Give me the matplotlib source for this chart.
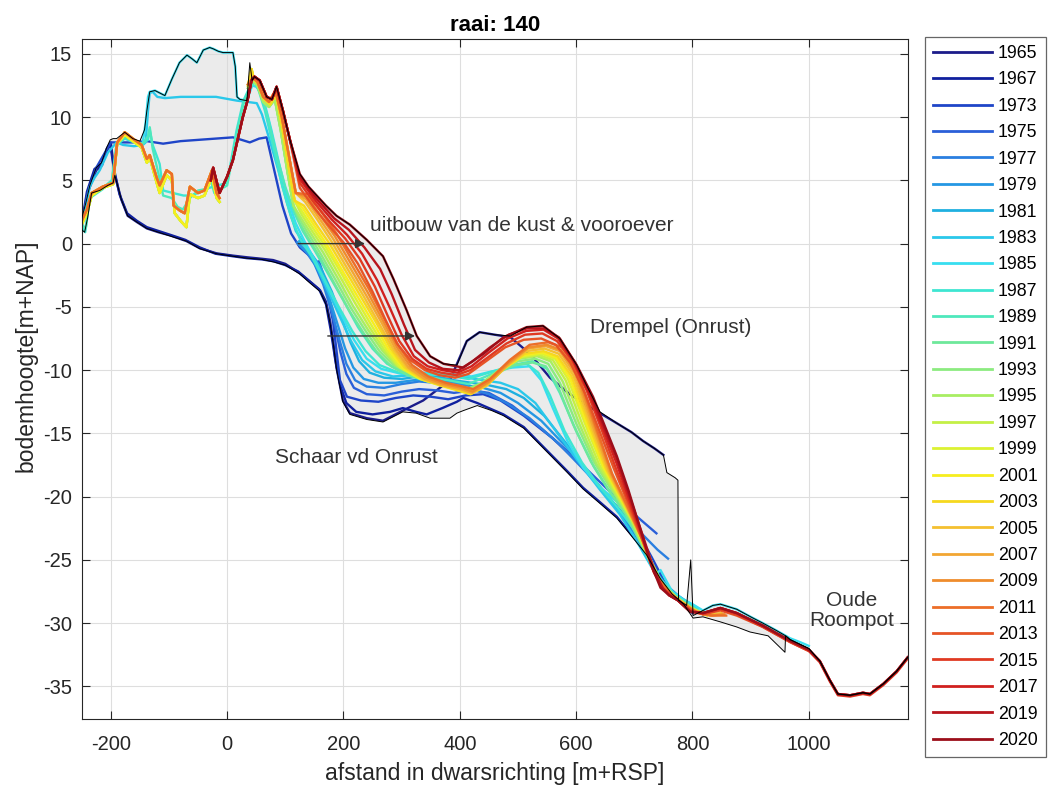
import numpy as np
import matplotlib
matplotlib.use("Agg")
import matplotlib.pyplot as plt

plt.rcParams['font.family'] = ['Liberation Sans', 'DejaVu Sans']
plt.rcParams['axes.unicode_minus'] = False

# ---------------------------------------------------------------- data ----
years = [1965, 1967, 1973, 1975, 1977, 1979, 1981, 1983, 1985, 1987, 1989,
         1991, 1993, 1995, 1997, 1999, 2001, 2003, 2005, 2007, 2009, 2011,
         2013, 2015, 2017, 2019, 2020]

GAP = [(np.nan, np.nan)]

p1965 = [(-250, 1.4), (-240, 4.0), (-225, 5.8), (-215, 6.2), (-207, 7.5), (-200, 8.0),
         (-193, 5.4), (-182, 3.5), (-171, 2.2), (-155, 1.7), (-138, 1.2), (-118, 0.9),
         (-98, 0.65), (-70, 0.2), (-47, -0.37), (-18, -0.77), (10, -0.95), (34, -1.08),
         (60, -1.2), (79, -1.3), (100, -1.6), (125, -2.35), (142, -3.0), (160, -3.7),
         (170, -4.6), (177, -6.1), (183, -8.0), (188, -9.8), (199, -12.4), (211, -13.4),
         (240, -13.8), (268, -14.0), (302, -13.2), (337, -12.4), (360, -11.6), (383, -10.8),
         (397, -9.3), (412, -7.7), (434, -7.0), (460, -7.2), (487, -7.4), (510, -8.3),
         (526, -9.0), (555, -10.6), (589, -11.9), (620, -12.8), (641, -13.4), (670, -14.2),
         (695, -14.9), (715, -15.6), (735, -16.2), (750, -16.7)]

p1967 = [(-250, 1.6), (-241, 4.1), (-228, 5.9), (-216, 6.3), (-208, 7.2), (-201, 7.9),
         (-195, 6.0), (-185, 3.9), (-172, 2.4), (-155, 1.8), (-138, 1.3), (-118, 1.0),
         (-98, 0.7), (-72, 0.3), (-47, -0.3), (-20, -0.8), (10, -1.0), (34, -1.15),
         (60, -1.25), (80, -1.4), (100, -1.7), (122, -2.2), (140, -2.9), (158, -3.6),
         (170, -4.8), (178, -6.8), (186, -9.2), (195, -11.3), (205, -12.6), (222, -13.3),
         (250, -13.5), (280, -13.3), (302, -13.0), (325, -13.3), (343, -13.5), (370, -13.0),
         (395, -12.5), (406, -12.2), (430, -12.6), (455, -13.1), (475, -13.5), (510, -14.5),
         (555, -16.6), (585, -18.0), (612, -19.3), (640, -20.4), (670, -21.6), (695, -23.0),
         (721, -24.5), (745, -26.4), (765, -27.6), (785, -28.4), (800, -29.2)]

p1973 = [(-250, 1.5), (-240, 4.0), (-225, 6.0), (-205, 7.6), (-200, 8.0), (-185, 8.0),
         (-160, 8.0), (-138, 8.1), (-110, 7.9), (-80, 8.1), (-50, 8.2), (-20, 8.3),
         (10, 8.4), (25, 8.2), (39, 8.0), (55, 8.3), (68, 8.4), (80, 6.0), (95, 3.0),
         (110, 0.8), (125, -0.3), (140, -0.9), (156, -1.5), (171, -3.7), (182, -6.1),
         (194, -10.8), (206, -12.1), (230, -12.4), (260, -12.5), (290, -12.2), (320, -12.0),
         (350, -12.1), (380, -12.3), (410, -12.0), (440, -11.9), (470, -12.4), (510, -13.6),
         (560, -15.4), (610, -17.6), (660, -20.3), (700, -22.3), (730, -24.8), (755, -27.0),
         (775, -28.0), (795, -28.8)]

p1975 = [(158, -1.4), (165, -2.4), (175, -4.2), (185, -6.4), (195, -8.6), (205, -10.3),
         (218, -11.4), (240, -11.9), (270, -12.0), (300, -11.7), (330, -11.5), (360, -11.6),
         (390, -11.8), (420, -11.6), (450, -11.8), (490, -12.8), (540, -14.6), (590, -16.6),
         (640, -18.8), (690, -21.0), (738, -22.9)]

p1977 = [(120, 0.1), (135, -0.6), (150, -1.6), (165, -3.2), (180, -5.4), (193, -7.6),
         (205, -9.5), (220, -10.8), (240, -11.3), (270, -11.4), (300, -11.1), (330, -10.9),
         (360, -11.0), (390, -11.3), (420, -11.5), (450, -11.9), (480, -12.6), (520, -13.8),
         (570, -15.8), (620, -18.2), (670, -20.8), (710, -22.8), (740, -24.2), (758, -24.9)]

p1979 = [(122, 0.0), (140, -0.8), (158, -2.2), (175, -4.2), (190, -6.4), (203, -8.3),
         (217, -9.8), (235, -10.7), (260, -11.0), (290, -11.0), (320, -10.8), (350, -10.7),
         (380, -10.9), (410, -11.2), (440, -11.4), (470, -11.8), (500, -12.6), (540, -14.0),
         (590, -16.4), (640, -19.2), (680, -21.6), (710, -23.6), (735, -25.8), (755, -27.0),
         (775, -27.8), (795, -28.5)]

p1981 = [(124, 0.2), (140, -0.5), (160, -1.8), (180, -3.8), (197, -5.9), (212, -7.8),
         (227, -9.3), (245, -10.2), (270, -10.6), (300, -10.7), (330, -10.5), (360, -10.5),
         (390, -10.8), (420, -11.0), (450, -11.2), (480, -11.5), (510, -12.2), (545, -13.6),
         (590, -16.2), (630, -18.6), (670, -20.8), (700, -22.6), (725, -24.9), (745, -26.6),
         (765, -27.6), (790, -28.4), (805, -28.9)]

p1983 = [(-250, 1.3), (-243, 3.0), (-236, 4.5), (-228, 5.2), (-219, 5.8), (-205, 7.2),
         (-190, 8.0), (-179, 7.8), (-160, 7.7), (-145, 7.8), (-140, 8.0), (-136, 10.5),
         (-133, 11.9), (-128, 12.0), (-120, 11.6), (-107, 11.5), (-80, 11.6), (-47, 11.6),
         (-19, 11.6), (17, 11.3), (35, 11.2), (51, 11.1), (60, 10.2), (73, 8.2), (88, 5.8),
         (103, 3.2), (118, 1.0), (130, 0.2), (145, -0.9), (162, -2.6), (180, -4.4),
         (198, -6.2), (213, -7.7), (232, -9.2), (255, -10.1), (285, -10.5), (320, -10.4),
         (360, -10.3), (400, -10.5), (440, -10.8), (470, -11.0), (500, -11.5), (530, -12.6),
         (565, -14.8), (600, -17.0), (640, -19.4), (675, -21.4), (705, -23.6), (730, -25.6),
         (748, -26.8), (770, -27.7), (795, -28.4), (808, -28.9)]

p1985 = [(-145, 8.0), (-140, 9.6), (-136, 11.6), (-133, 12.0), (-124, 12.1), (-107, 11.7),
         (-95, 13.0), (-82, 14.3), (-69, 14.9), (-60, 14.6), (-52, 14.3), (-41, 15.3),
         (-30, 15.5), (-24, 15.4), (-15, 15.2), (-7, 15.1), (10, 15.1), (14, 14.0),
         (17, 11.6), (22, 11.4), (34, 11.3), (43, 12.5), (50, 12.4), (58, 12.0), (66, 10.8),
         (76, 9.0), (90, 6.2), (104, 3.6), (118, 1.6), (134, 0.1), (152, -1.4), (172, -3.3),
         (195, -5.5), (218, -7.6), (240, -9.1), (265, -9.9), (300, -10.3), (340, -10.2),
         (380, -10.3), (420, -10.5), (455, -10.1), (490, -9.8), (520, -9.7), (540, -10.8),
         (560, -13.0), (585, -15.6), (612, -17.7), (640, -19.2), (670, -20.4), (700, -22.2),
         (725, -24.6), (738, -26.1), (745, -25.8), (752, -26.4), (765, -27.5), (785, -28.2),
         (800, -28.5), (818, -29.0), (835, -28.6), (848, -28.5), (876, -28.9), (900, -29.5),
         (921, -30.0), (945, -30.6), (968, -31.2), (985, -31.5), (1000, -31.8)]

dune_left_teal = [(-250, 1.3), (-244, 0.9), (-236, 3.6), (-214, 4.3), (-198, 5.0),
                  (-190, 7.8), (-176, 8.3), (-160, 8.0), (-145, 7.9), (-136, 8.2),
                  (-133, 9.0), (-128, 7.8), (-116, 6.3), (-110, 4.2), (-93, 4.0), (-75, 3.8),
                  (-62, 3.8), (-50, 4.0), (-38, 4.3), (-24, 4.5), (0, 4.8), (16, 8.9),
                  (28, 11.3), (38, 12.3)]

dune_left_aqua = [(-250, 1.5), (-243, 1.2), (-236, 3.7), (-214, 4.4), (-198, 5.0),
                  (-190, 7.9), (-176, 8.4), (-160, 8.1), (-145, 7.9), (-136, 8.5),
                  (-133, 9.2), (-128, 7.5), (-118, 5.5), (-110, 3.8), (-95, 3.6), (-85, 2.9),
                  (-76, 2.7), (-64, 3.6), (-50, 4.2), (-38, 4.3), (-28, 5.0), (-22, 4.0),
                  (0, 4.6), (16, 8.5), (28, 11.0), (38, 12.2)]

p1987 = [(48, 12.8), (55, 12.0), (65, 10.5), (80, 7.5), (95, 4.5), (110, 2.1), (125, 0.4),
         (145, -1.0), (168, -2.9), (192, -5.0), (215, -6.9), (238, -8.5), (262, -9.6),
         (295, -10.2), (335, -10.3), (375, -10.4), (415, -10.7), (450, -10.2), (485, -9.7),
         (515, -9.5), (535, -10.2), (555, -12.0), (580, -14.8), (610, -17.3), (640, -19.2),
         (670, -20.8), (700, -22.6), (725, -24.9), (745, -26.5), (770, -27.8), (790, -28.4),
         (805, -28.9)]

p1989 = [(48, 12.8), (58, 11.8), (70, 10.0), (85, 7.0), (100, 4.5), (115, 2.5), (130, 1.0),
         (150, -0.5), (175, -2.5), (200, -4.5), (225, -6.6), (250, -8.3), (275, -9.5),
         (305, -10.2), (340, -10.5), (380, -10.8), (415, -11.1), (450, -10.4), (490, -9.6),
         (525, -9.3), (550, -9.9), (572, -11.8), (600, -14.8), (630, -17.6), (660, -19.8),
         (690, -21.6), (720, -24.2), (745, -26.6), (770, -27.8), (795, -28.6), (810, -29.0)]

dune_left_lime = [(-250, 1.5), (-241, 2.4), (-233, 3.8), (-214, 4.4), (-196, 4.7),
                  (-189, 7.9), (-176, 8.6), (-162, 8.1), (-147, 7.6), (-138, 6.4),
                  (-133, 6.8), (-121, 4.8), (-116, 4.0), (-104, 5.4), (-95, 5.0), (-90, 2.4),
                  (-80, 1.8), (-70, 1.3), (-64, 3.9), (-50, 3.6), (-39, 3.8), (-26, 5.3),
                  (-18, 3.6), (-13, 3.3)]

dune_left_ochre = [(-250, 1.8), (-241, 2.7), (-233, 4.0), (-214, 4.5), (-196, 4.8),
                   (-189, 8.0), (-176, 8.8), (-162, 8.3), (-147, 7.8), (-138, 6.7),
                   (-133, 7.0), (-121, 5.2), (-116, 4.6), (-104, 5.8), (-95, 5.5), (-92, 3.0),
                   (-81, 2.6), (-73, 2.4), (-64, 4.5), (-50, 4.0), (-39, 4.2), (-26, 5.8),
                   (-18, 4.0), (-13, 3.6)]

dune_top_green = [(36, 12.3), (44, 12.9), (52, 12.5), (62, 11.2), (72, 10.8), (82, 11.4),
                  (92, 9.0), (104, 5.6), (114, 3.0)]
dune_top_yellow = [(36, 12.5), (42, 13.8), (46, 13.0), (54, 12.6), (64, 11.4), (74, 11.0),
                   (84, 11.8), (94, 9.4), (106, 6.0), (116, 3.4)]
dune_top_orange = [(36, 12.6), (44, 13.1), (52, 12.8), (62, 11.6), (72, 11.2), (83, 12.1),
                   (94, 10.0), (106, 7.0), (118, 4.0)]

p1991 = [(125, 1.6), (140, 0.4), (160, -1.1), (185, -3.2), (210, -5.3), (235, -7.1),
         (258, -8.6), (282, -9.7), (310, -10.4), (345, -10.9), (380, -11.3), (410, -11.6),
         (435, -11.1), (465, -10.2), (495, -9.6), (525, -9.4), (548, -9.7), (568, -11.2),
         (595, -14.3), (625, -17.2), (655, -19.4), (685, -21.4), (715, -24.0), (740, -26.4),
         (765, -27.7), (790, -28.5), (810, -29.1)]
p1993 = [(125, 1.9), (142, 0.6), (162, -0.9), (188, -3.0), (213, -5.1), (238, -6.9),
         (262, -8.5), (286, -9.6), (315, -10.3), (350, -10.8), (385, -11.2), (412, -11.5),
         (438, -11.0), (468, -10.0), (500, -9.3), (530, -9.1), (552, -9.5), (572, -11.0),
         (600, -14.2), (630, -17.2), (660, -19.4), (690, -21.5), (718, -24.2), (742, -26.6),
         (767, -27.8), (792, -28.6), (812, -29.1)]
p1995 = [(126, 2.1), (144, 0.8), (165, -0.7), (191, -2.8), (216, -4.9), (242, -6.8),
         (266, -8.4), (290, -9.6), (320, -10.4), (355, -10.9), (390, -11.3), (414, -11.6),
         (440, -11.0), (470, -9.9), (502, -9.1), (533, -8.9), (556, -9.3), (577, -10.9),
         (605, -14.2), (635, -17.4), (665, -19.6), (694, -21.8), (722, -24.6), (745, -26.8),
         (770, -27.9), (795, -28.7), (815, -29.2)]
p1997 = [(128, 2.3), (146, 1.0), (168, -0.5), (194, -2.6), (220, -4.7), (246, -6.7),
         (270, -8.4), (294, -9.7), (325, -10.5), (360, -11.0), (392, -11.4), (416, -11.7),
         (442, -11.1), (472, -9.9), (505, -9.0), (536, -8.8), (560, -9.2), (582, -10.8),
         (610, -14.2), (640, -17.5), (670, -19.8), (698, -22.0), (725, -24.8), (747, -26.9),
         (772, -28.0), (797, -28.8), (817, -29.2)]
p1999 = [(128, 2.6), (148, 1.2), (170, -0.3), (197, -2.4), (223, -4.5), (250, -6.6),
         (274, -8.4), (298, -9.8), (328, -10.6), (362, -11.1), (394, -11.5), (417, -11.8),
         (444, -11.1), (474, -9.9), (508, -8.9), (540, -8.7), (564, -9.1), (586, -10.7),
         (615, -14.2), (645, -17.6), (674, -20.0), (702, -22.3), (728, -25.1), (749, -27.0),
         (774, -28.1), (800, -28.9), (818, -29.3)]
p2001 = [(130, 2.8), (150, 1.4), (173, -0.2), (200, -2.3), (227, -4.4), (254, -6.5),
         (278, -8.4), (302, -9.8), (332, -10.7), (365, -11.2), (396, -11.6), (418, -11.9),
         (446, -11.2), (476, -9.9), (510, -8.8), (542, -8.6), (566, -9.0), (589, -10.6),
         (618, -14.2), (648, -17.7), (677, -20.1), (705, -22.5), (730, -25.3), (750, -27.1),
         (775, -28.1), (800, -28.9), (820, -29.3)]
p2003 = [(132, 3.0), (152, 1.6), (176, 0.0), (203, -2.1), (230, -4.2), (257, -6.3),
         (281, -8.3), (305, -9.8), (335, -10.7), (368, -11.2), (398, -11.6), (419, -11.9),
         (447, -11.2), (478, -9.8), (512, -8.7), (544, -8.5), (568, -8.9), (592, -10.5),
         (621, -14.2), (651, -17.8), (680, -20.3), (708, -22.8), (732, -25.6), (752, -27.2),
         (777, -28.2), (802, -29.0), (825, -29.4)]
p2005 = [(134, 3.3), (155, 1.9), (179, 0.2), (207, -2.0), (234, -4.1), (261, -6.3),
         (285, -8.3), (309, -9.8), (338, -10.7), (370, -11.2), (400, -11.5), (420, -11.8),
         (448, -11.1), (480, -9.7), (514, -8.5), (546, -8.3), (570, -8.7), (595, -10.4),
         (624, -14.2), (654, -17.9), (683, -20.5), (710, -23.0), (734, -25.8), (754, -27.3),
         (778, -28.2), (803, -29.0), (830, -29.3), (850, -29.2)]
p2007 = [(136, 3.5), (157, 2.1), (182, 0.4), (210, -1.8), (238, -4.0), (265, -6.2),
         (289, -8.3), (312, -9.8), (340, -10.7), (372, -11.2), (402, -11.5), (421, -11.8),
         (449, -11.0), (482, -9.6), (516, -8.3), (548, -8.1), (572, -8.5), (598, -10.3),
         (627, -14.2), (657, -18.0), (686, -20.7), (713, -23.3), (736, -26.0), (756, -27.4),
         (780, -28.3), (805, -29.1), (830, -29.4), (852, -29.3)]
p2009 = [(138, 3.7), (159, 2.3), (185, 0.6), (213, -1.6), (241, -3.8), (268, -6.1),
         (292, -8.2), (315, -9.7), (343, -10.6), (374, -11.1), (404, -11.4), (422, -11.7),
         (450, -10.9), (484, -9.4), (518, -8.2), (550, -8.0), (574, -8.4), (600, -10.2),
         (630, -14.2), (660, -18.1), (689, -20.9), (716, -23.6), (738, -26.2), (758, -27.5),
         (782, -28.4), (807, -29.1), (832, -29.4), (855, -29.3)]
p2011 = [(140, 3.9), (162, 2.5), (188, 0.8), (216, -1.4), (244, -3.6), (271, -6.0),
         (295, -8.1), (318, -9.6), (346, -10.5), (376, -11.0), (406, -11.3), (423, -11.5),
         (452, -10.7), (486, -9.2), (520, -8.0), (552, -7.8), (576, -8.2), (602, -10.1),
         (632, -14.2), (662, -18.2), (692, -21.1), (718, -23.8), (740, -26.4), (760, -27.6),
         (784, -28.5), (808, -29.2), (834, -29.4), (858, -29.4)]

dune_red = [(-28, 5.0), (-24, 6.0), (-13, 4.0), (0, 5.3), (10, 6.6), (19, 8.4), (27, 10.0),
            (35, 11.3), (42, 12.9), (47, 13.2), (56, 12.9), (68, 11.6), (77, 11.4),
            (85, 12.4), (96, 10.5), (108, 8.2)]

p2013 = [(125, 4.4), (150, 2.8), (175, 1.4), (200, 0.1), (225, -1.6), (250, -3.8),
         (272, -6.0), (292, -7.9), (315, -9.2), (340, -10.0), (365, -10.4), (392, -10.6),
         (415, -10.3), (445, -9.3), (478, -8.2), (510, -7.6), (540, -7.5), (565, -8.0),
         (590, -9.4), (615, -11.8), (640, -14.8), (665, -17.8), (690, -20.6), (712, -23.2),
         (732, -25.8), (748, -27.2), (770, -28.0), (795, -28.9), (818, -29.3), (848, -29.0),
         (876, -29.4), (921, -30.3), (968, -31.5), (1000, -32.2)]
p2015 = [(125, 4.8), (150, 3.2), (177, 1.7), (203, 0.4), (228, -1.2), (254, -3.4),
         (276, -5.7), (296, -7.7), (318, -9.1), (343, -9.9), (368, -10.2), (394, -10.4),
         (418, -10.0), (448, -9.0), (480, -7.9), (512, -7.2), (542, -7.1), (567, -7.7),
         (593, -9.2), (618, -11.6), (643, -14.6), (667, -17.6), (692, -20.6), (714, -23.3),
         (734, -26.0), (750, -27.3), (772, -28.1), (796, -29.0), (818, -29.3), (848, -28.9),
         (876, -29.3), (921, -30.3), (968, -31.5), (1000, -32.2), (1019, -33.1),
         (1036, -34.6), (1050, -35.7), (1071, -35.8), (1093, -35.6), (1105, -35.7),
         (1128, -34.9), (1151, -33.9), (1170, -32.8)]
p2017 = [(125, 5.1), (152, 3.4), (180, 1.9), (206, 0.7), (232, -0.8), (258, -2.9),
         (280, -5.1), (300, -7.2), (321, -8.9), (345, -9.7), (370, -10.0), (396, -10.2),
         (420, -9.7), (450, -8.6), (482, -7.5), (514, -6.9), (544, -6.8), (569, -7.5),
         (596, -9.3), (622, -11.8), (646, -14.6), (669, -17.3), (692, -20.3), (714, -23.2),
         (734, -26.0), (750, -27.3)]
p2019 = [(125, 5.3), (153, 3.6), (184, 2.0), (209, 1.1), (236, -0.3), (263, -2.0),
         (283, -4.0), (304, -6.4), (323, -8.4), (347, -9.4), (371, -9.9), (398, -10.0),
         (422, -9.3), (452, -8.2), (484, -7.2), (515, -6.7), (544, -6.7), (570, -7.4),
         (598, -9.4), (626, -12.0), (648, -14.5), (670, -17.0), (692, -20.0), (714, -23.0),
         (734, -25.8), (748, -27.2)]
p2020 = [(125, 5.5), (140, 4.5), (154, 3.8), (170, 3.0), (188, 2.2), (211, 1.5),
         (240, 0.3), (268, -1.0), (286, -2.8), (308, -5.2), (326, -7.3), (349, -8.9),
         (372, -9.5), (406, -9.8), (441, -8.7), (475, -7.4), (515, -6.6), (543, -6.5),
         (572, -7.5), (601, -9.6), (629, -12.1), (650, -14.5), (670, -16.8), (690, -19.5),
         (710, -22.5), (730, -25.5), (745, -27.2)]

roompot_tail = [(760, -27.8), (775, -28.2), (796, -29.1), (818, -29.2), (848, -28.8),
                (876, -29.2), (921, -30.2), (968, -31.4), (1000, -32.1), (1019, -33.0),
                (1036, -34.5), (1050, -35.6), (1071, -35.7), (1093, -35.5), (1105, -35.6),
                (1128, -34.8), (1151, -33.8), (1170, -32.7)]

# upper and lower bounds of all surveyed profiles
env_upper = [(-250, 2.0), (-243, 3.2), (-236, 4.6), (-225, 6.0), (-216, 6.4), (-207, 7.6),
             (-201, 8.2), (-196, 8.3), (-190, 8.3), (-176, 8.8), (-162, 8.3), (-150, 8.1),
             (-142, 9.0), (-138, 10.5), (-133, 12.0), (-124, 12.1), (-107, 11.7), (-95, 13.0),
             (-82, 14.3), (-69, 14.9), (-60, 14.6), (-52, 14.3), (-41, 15.3), (-30, 15.5),
             (-24, 15.4), (-15, 15.2), (-7, 15.1), (10, 15.1), (14, 14.0), (17, 11.6),
             (22, 11.4), (34, 11.3), (39, 14.3), (43, 12.9), (47, 13.2), (56, 12.9),
             (68, 11.6), (77, 11.4), (85, 12.4), (96, 10.5), (108, 8.2), (125, 5.5),
             (140, 4.5), (154, 3.8), (170, 3.0), (188, 2.2), (211, 1.5), (240, 0.3),
             (268, -1.0), (286, -2.8), (308, -5.2), (326, -7.3), (349, -8.9), (372, -9.5),
             (395, -9.6), (412, -7.7), (434, -7.0), (460, -7.2), (487, -7.3), (515, -6.6),
             (543, -6.5), (572, -7.5), (601, -9.6), (620, -11.4), (641, -13.3), (670, -14.2),
             (695, -14.9), (715, -15.6), (735, -16.2), (750, -16.7), (756, -18.1),
             (770, -18.5), (775, -18.7), (776, -28.2), (790, -28.6), (797, -25.0),
             (801, -29.4), (818, -29.0), (835, -28.6), (848, -28.5), (876, -28.9),
             (900, -29.5), (921, -30.0), (945, -30.6), (960, -31.0), (968, -31.3),
             (1000, -32.0), (1019, -33.0), (1036, -34.5), (1050, -35.6), (1071, -35.7),
             (1093, -35.5), (1105, -35.6), (1128, -34.8), (1151, -33.8), (1170, -32.7)]
env_lower = [(-250, 1.1), (-245, 0.9), (-240, 2.0), (-233, 4.0), (-219, 4.2), (-205, 4.6),
             (-196, 4.8), (-193, 5.4), (-182, 3.5), (-171, 2.2), (-155, 1.7), (-138, 1.2),
             (-118, 0.9), (-98, 0.6), (-70, 0.2), (-47, -0.4), (-18, -0.8), (10, -1.0),
             (34, -1.15), (60, -1.25), (80, -1.45), (100, -1.7), (125, -2.4), (142, -3.1),
             (160, -3.8), (170, -4.8), (177, -6.3), (183, -8.1), (188, -9.9), (199, -12.5),
             (211, -13.5), (240, -13.9), (268, -14.1), (302, -13.3), (325, -13.4),
             (349, -13.8), (383, -13.8), (395, -13.4), (406, -13.2), (430, -12.8),
             (455, -13.2), (475, -13.6), (510, -14.6), (555, -16.7), (585, -18.1),
             (612, -19.4), (640, -20.5), (670, -21.7), (695, -23.1), (721, -24.6),
             (745, -26.5), (765, -27.7), (785, -28.5), (801, -29.6), (818, -29.5),
             (848, -29.9), (876, -30.3), (899, -30.7), (930, -31.0), (959, -32.3),
             (960, -31.0), (968, -31.3), (1000, -32.0), (1019, -33.0), (1036, -34.5),
             (1050, -35.6), (1071, -35.7), (1093, -35.5), (1105, -35.6), (1128, -34.8),
             (1151, -33.8), (1170, -32.7)]

profiles = {
    1965: p1965,
    1967: p1967,
    1973: p1973,
    1975: p1975,
    1977: p1977,
    1979: p1979,
    1981: p1981,
    1983: p1983,
    1985: p1985,
    1987: dune_left_teal + p1987,
    1989: dune_left_aqua + p1989,
    1991: dune_left_lime + GAP + dune_top_green + p1991,
    1993: dune_left_lime + GAP + dune_top_green + p1993,
    1995: dune_left_lime + GAP + dune_top_green + p1995,
    1997: dune_left_lime + GAP + dune_top_yellow + p1997,
    1999: dune_left_lime + GAP + dune_top_yellow + p1999,
    2001: dune_left_lime + GAP + dune_top_yellow + p2001,
    2003: dune_left_ochre + GAP + dune_top_yellow + p2003,
    2005: dune_left_ochre + GAP + dune_top_orange + p2005,
    2007: dune_left_ochre + GAP + dune_top_orange + p2007,
    2009: dune_left_ochre + GAP + dune_top_orange + p2009,
    2011: dune_left_ochre + GAP + dune_top_orange + p2011,
    2013: dune_red + p2013,
    2015: dune_red + p2015,
    2017: dune_red + p2017 + roompot_tail,
    2019: dune_red + p2019 + roompot_tail,
    2020: dune_red + p2020 + roompot_tail,
}

year_colors = ['#1c1c8a', '#10209e', '#1f45c8', '#2a5fd8', '#2a7fe0', '#2597e3',
               '#1fb0e0', '#2ac8ea', '#38def0', '#3ee6d2', '#4ee8bc', '#6ee89a',
               '#8ceb80', '#a8ee62', '#c4f046', '#dcf232', '#f6ee1e', '#f6d81e',
               '#f4c030', '#f2a632', '#ef8c2c', '#ec6e28', '#e65426', '#e03a22',
               '#d0201e', '#b8141c', '#9c0e1a']

# ---------------------------------------------------------------- plot ----
W, H = 1050, 785
fig = plt.figure(figsize=(W / 100, H / 100), dpi=100)
ax = fig.add_axes([81.7 / W, 1 - 719.3 / H, (907.7 - 81.7) / W, (719.3 - 39.3) / H])

ux, uy = np.array(env_upper).T
lx, ly = np.array(env_lower).T
ax.fill(np.r_[ux, lx[::-1]], np.r_[uy, ly[::-1]], facecolor='#d9d9d9', alpha=0.5,
        edgecolor='none', zorder=1)

handles = []
for yr, col in zip(years, year_colors):
    px, py = np.array(profiles[yr], dtype=float).T
    h, = ax.plot(px, py, color=col, lw=1.7, label=str(yr), zorder=2,
                 solid_joinstyle='round')
    handles.append(h)

ax.plot(ux, uy, color='black', lw=0.7, zorder=3)
ax.plot(lx, ly, color='black', lw=0.7, zorder=3)

# annotations
txt_kw = dict(fontsize=15, color='#333333', zorder=5)
ax.text(245, 1.45, 'uitbouw van de kust & vooroever', ha='left', va='center', **txt_kw)
ax.text(623, -6.6, 'Drempel (Onrust)', ha='left', va='center', **txt_kw)
ax.text(82, -16.9, 'Schaar vd Onrust', ha='left', va='center', **txt_kw)
ax.text(1074, -29.0, 'Oude\nRoompot', ha='center', va='center', multialignment='center',
        linespacing=1.05, **txt_kw)

arrow_kw = dict(arrowstyle='-|>', color='#333333', lw=1.0, mutation_scale=14,
                shrinkA=0, shrinkB=0)
ax.annotate('', xy=(237, 0), xytext=(122, 0), arrowprops=arrow_kw, zorder=4)
ax.annotate('', xy=(323, -7.3), xytext=(173, -7.3), arrowprops=arrow_kw, zorder=4)

ax.set_xlim(-250, 1170)
ax.set_ylim(-37.6, 16.15)
ax.set_xticks(np.arange(-200, 1001, 200))
ax.set_yticks(np.arange(-35, 16, 5))
ax.grid(True, color='#dedede', lw=0.8)
ax.set_axisbelow(True)
ax.tick_params(direction='in', top=True, right=True, length=6, width=0.8,
               labelsize=14.5, colors='#262626')
ax.tick_params(axis='x', pad=11)
ax.tick_params(axis='y', pad=7)
for sp in ax.spines.values():
    sp.set_color('#262626')
    sp.set_linewidth(0.8)

ax.set_title('raai: 140', fontsize=16, fontweight='bold', color='black', pad=6)
ax.set_xlabel('afstand in dwarsrichting [m+RSP]', fontsize=16.5, color='#262626', labelpad=6)
ax.set_ylabel('bodemhoogte[m+NAP]', fontsize=16.5, color='#262626', labelpad=4)
ax.yaxis.label.set_y(0.535)

leg = fig.legend(handles, [str(y) for y in years], loc='upper left',
                 bbox_to_anchor=(925 / W, 1 - 37 / H), borderaxespad=0,
                 frameon=True, fancybox=False, edgecolor='#404040', fontsize=12.8,
                 handlelength=3.3, handletextpad=0.35, labelspacing=0.53, borderpad=0.45)
leg.get_frame().set_linewidth(0.9)
for lh in leg.get_lines():
    lh.set_linewidth(2.0)

fig.savefig('out.png', dpi=100)
